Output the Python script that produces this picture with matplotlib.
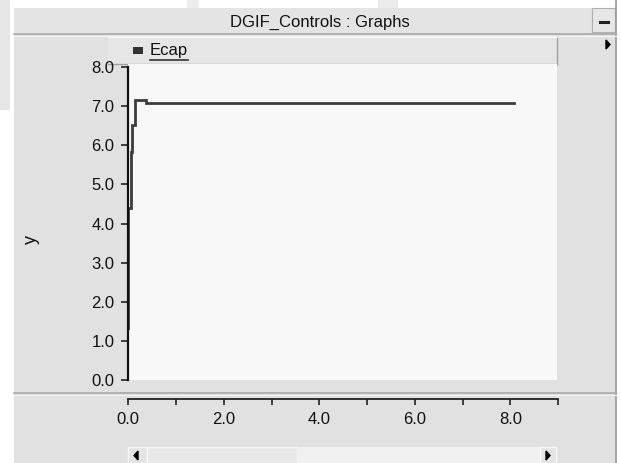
import matplotlib
matplotlib.use("Agg")
import matplotlib.pyplot as plt
from matplotlib.patches import Rectangle, Polygon
from matplotlib.lines import Line2D

plt.rcParams["font.family"] = ["Liberation Sans", "DejaVu Sans"]

# data
ecap_t = [0.00, 0.00, 0.05, 0.05, 0.08, 0.08, 0.14, 0.14, 0.37, 0.37, 8.08]
ecap_v = [1.33, 4.40, 4.40, 5.83, 5.83, 6.52, 6.52, 7.16, 7.16, 7.07, 7.07]
y_ticks = [0, 1, 2, 3, 4, 5, 6, 7, 8]
x_major = [0, 2, 4, 6, 8]
x_minor = [1, 3, 5, 7, 9]
title = "DGIF_Controls : Graphs"
series_name = "Ecap"

W, H = 621, 463
PANEL = "#e1e1e1"
TXT = "#111111"
fig = plt.figure(figsize=(W / 100, H / 100), dpi=100)
fig.patch.set_facecolor("white")


def box(x0, y0, x1, y1, fc, ec="none", lw=0, z=0):
    # pixel box, y measured from the top
    r = Rectangle((x0 / W, 1 - y1 / H), (x1 - x0) / W, (y1 - y0) / H,
                  transform=fig.transFigure, facecolor=fc, edgecolor=ec,
                  linewidth=lw, zorder=z)
    fig.add_artist(r)


def hline(x0, x1, y, c, lw=1, z=1):
    fig.add_artist(Line2D([x0 / W, x1 / W], [1 - y / H, 1 - y / H],
                          transform=fig.transFigure, color=c, lw=lw, zorder=z))


def vline(x, y0, y1, c, lw=1, z=1):
    fig.add_artist(Line2D([x / W, x / W], [1 - y0 / H, 1 - y1 / H],
                          transform=fig.transFigure, color=c, lw=lw, zorder=z))


def tri(pts, c="black"):
    fig.add_artist(Polygon([(x / W, 1 - y / H) for x, y in pts], closed=True,
                           transform=fig.transFigure, color=c, zorder=5))


# window background
box(0, 0, 10, 110, "#e6e6e6")
box(14, 8, 616, H, PANEL)
box(187, 0, 199, 8, "#ececec")
box(378, 0, 398, 8, "#ececec")
vline(616, 0, H, "#9a9a9a", lw=1.2)

# title bar
box(14, 8, 616, 34, "#e4e4e4")
hline(14, 616, 34, "#a8a8a8", lw=1.2)
hline(14, 616, 36, "#f4f4f4", lw=0.8)
box(592, 8, 615, 32, "#e6e6e6", ec="#b0b0b0", lw=0.8)
hline(600, 608, 22, "#222222", lw=2.2, z=3)
fig.text(320 / W, 1 - 22 / H, title, ha="center", va="center",
         fontsize=12, color=TXT)

# legend strip
box(108, 37, 557, 64, "#e6e6e6", z=1)
hline(108, 557, 64, "#a0a0a0", lw=1)
vline(557, 37, 64, "#a0a0a0", lw=1)
hline(108, 557, 37, "#f6f6f6", lw=0.8)
box(133, 47, 143, 54, "#333333", z=3)
fig.text(150 / W, 1 - 51 / H, series_name, ha="left", va="center",
         fontsize=12, color=TXT)
hline(150, 188, 60, "#333333", lw=1.2, z=3)
tri([(606, 40), (606, 49), (610, 44.5)])

# plot area background
box(128, 64, 557, 380, "#f8f8f8", z=1)

# separator above the x axis
hline(14, 616, 393, "#a8a8a8", lw=1.2)
hline(14, 616, 395, "#f2f2f2", lw=0.8)

# scrollbar
box(128, 447, 147, H, "#e4e4e4", ec="#f8f8f8", lw=1)
tri([(138, 451), (138, 460), (134, 455.5)])
box(147, 447, 297, H, "#e8e8e8", ec="#f8f8f8", lw=1)
box(297, 447, 540, H, "#f0f0f0")
box(540, 447, 556, H, "#e4e4e4", ec="#f8f8f8", lw=1)
tri([(546, 451), (546, 460), (550, 455.5)])

# main axes (y only)
ax = fig.add_axes([128.3 / W, 1 - 380 / H, (558 - 128.3) / W, (380 - 67) / H])
ax.set_zorder(3)
ax.patch.set_alpha(0)
ax.set_xlim(0, 9)
ax.set_ylim(0, 8)
for s in ["top", "right", "bottom"]:
    ax.spines[s].set_visible(False)
ax.spines["left"].set_linewidth(1.6)
ax.spines["left"].set_color("#111111")
ax.spines["left"].set_bounds(0, 8)
ax.set_xticks([])
ax.set_yticks(y_ticks)
ax.set_yticklabels([f"{v:.1f}" for v in y_ticks])
ax.tick_params(axis="y", length=5, width=1.2, pad=5, labelsize=12,
               color="#222222", labelcolor=TXT)
ax.set_ylabel("y", fontsize=13, color=TXT)
ax.yaxis.set_label_coords(-0.206, 0.45)
ax.plot(ecap_t, ecap_v, color="#3c3c3c", lw=2, clip_on=False,
        solid_joinstyle="miter")

# separate x axis strip
ax2 = fig.add_axes([128.3 / W, 1 - 399 / H, (558 - 128.3) / W, 1 / H])
ax2.set_zorder(3)
ax2.patch.set_alpha(0)
ax2.set_xlim(0, 9)
ax2.set_yticks([])
for s in ["top", "right", "left"]:
    ax2.spines[s].set_visible(False)
ax2.spines["bottom"].set_linewidth(1.3)
ax2.spines["bottom"].set_color("#222222")
ax2.set_xticks(x_major)
ax2.set_xticklabels([f"{v:.1f}" for v in x_major])
ax2.set_xticks(x_minor, minor=True)
ax2.tick_params(axis="x", which="both", length=4, width=1.2, pad=5,
                labelsize=12, color="#222222", labelcolor=TXT)

fig.savefig("out.png", dpi=100)
